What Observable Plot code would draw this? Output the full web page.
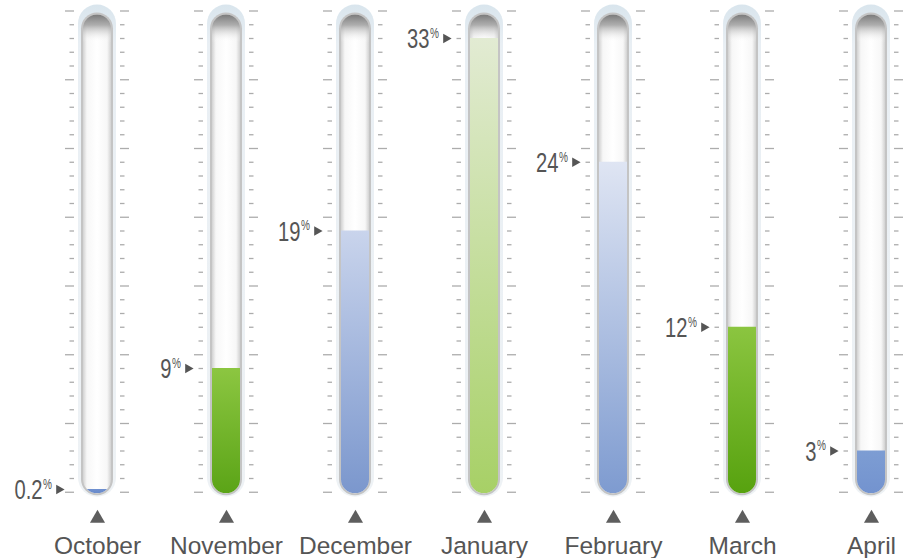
<!DOCTYPE html>
<html><head><meta charset="utf-8">
<script src="https://cdn.jsdelivr.net/npm/d3@7"></script>
<script src="https://cdn.jsdelivr.net/npm/@observablehq/plot@0.6"></script>
<style>
html,body{margin:0;padding:0;background:#fff;}
#chart{width:911px;height:558px;}
</style>
</head><body>
<svg width="0" height="0" style="position:absolute">
<defs id="gdefs">
 <linearGradient id="inner" x1="0" x2="1" y1="0" y2="0">
  <stop offset="0" stop-color="#d2d2d2"/>
  <stop offset="0.14" stop-color="#f7f7f7"/>
  <stop offset="0.5" stop-color="#ffffff"/>
  <stop offset="0.86" stop-color="#f7f7f7"/>
  <stop offset="1" stop-color="#d2d2d2"/>
 </linearGradient>
 <linearGradient id="dome" x1="0" x2="0" y1="0" y2="1">
  <stop offset="0" stop-color="#7a7a7a" stop-opacity="1"/>
  <stop offset="0.022" stop-color="#a0a0a0" stop-opacity="0.85"/>
  <stop offset="0.058" stop-color="#ffffff" stop-opacity="0"/>
  <stop offset="1" stop-color="#ffffff" stop-opacity="0"/>
 </linearGradient>
 <linearGradient id="halo" x1="0" x2="0" y1="0" y2="1">
  <stop offset="0" stop-color="#d9e5ed"/>
  <stop offset="0.08" stop-color="#e9eff4"/>
  <stop offset="1" stop-color="#eef2f5"/>
 </linearGradient>
</defs></svg>
<div id="chart"></div>
<script>
// ---- data ----
const months = ["October", "November", "December", "January", "February", "March", "April"];
const values = [0.2, 9, 19, 33, 24, 12, 3];
const valueLabels = ["0.2", "9", "19", "33", "24", "12", "3"];
const yMax = 35;
const tickLevels = d3.range(0, yMax + 1);

// ---- styles ----
const fillTop =    ["#6f90cf", "#8cc641", "#c9d4ec", "#e2ebd3", "#dfe5f3", "#8bc540", "#7d9dd3"];
const fillBottom = ["#6a8bcb", "#5ba417", "#7b97cd", "#a7d066", "#7e9bd0", "#57a20f", "#7393cf"];

const gdefs = document.getElementById("gdefs");
const NS = "http://www.w3.org/2000/svg";
months.forEach((m, i) => {
  const lg = document.createElementNS(NS, "linearGradient");
  lg.setAttribute("id", "fill" + i);
  lg.setAttribute("x1", "0"); lg.setAttribute("x2", "0");
  lg.setAttribute("y1", "0"); lg.setAttribute("y2", "1");
  [[0, fillTop[i]], [1, fillBottom[i]]].forEach(([o, c]) => {
    const s = document.createElementNS(NS, "stop");
    s.setAttribute("offset", o); s.setAttribute("stop-color", c);
    lg.appendChild(s);
  });
  gdefs.appendChild(lg);
});

const data = months.map((m, i) => ({month: m, value: values[i], label: valueLabels[i], fill: `url(#fill${i})`}));
const ticks = months.flatMap(m => tickLevels.map(l => ({month: m, level: l, major: l % 5 === 0})));
const major = ticks.filter(d => d.major);
const minor = ticks.filter(d => !d.major);
const tickStyle = {x: "month", y: "level", stroke: "#acacac", strokeWidth: 1.3};
const numFont = "'Liberation Sans',Arial,sans-serif";
const labFont = "'Liberation Sans',Helvetica,Arial,sans-serif";
const txt = "#555555";

const plot = Plot.plot({
  width: 911, height: 558, margin: 0,
  x: {domain: months, range: [81.5, 887.1], paddingInner: 0.784, paddingOuter: 0, align: 0.5, axis: null},
  y: {domain: [0, yMax], range: [491.75, 10.5], axis: null},
  color: {type: "identity"},
  style: {background: "transparent", overflow: "visible"},
  marks: [
    Plot.tickY(major, {...tickStyle, insetLeft: -18, insetRight: 37}),
    Plot.tickY(major, {...tickStyle, insetLeft: 37, insetRight: -18}),
    Plot.tickY(minor, {...tickStyle, insetLeft: -13.5, insetRight: 37}),
    Plot.tickY(minor, {...tickStyle, insetLeft: 37, insetRight: -13.5}),
    // halo
    Plot.barY(data, {x: "month", y1: 0, y2: yMax, fill: "url(#halo)", insetLeft: -5, insetRight: -5, insetTop: -6, insetBottom: -5, rx: 19}),
    // glass border
    Plot.barY(data, {x: "month", y1: 0, y2: yMax, fill: "#c4c4c4", insetLeft: -2, insetRight: -2, insetTop: 2, insetBottom: -3.5, rx: 16}),
    // interior
    Plot.barY(data, {x: "month", y1: 0, y2: yMax, fill: "url(#inner)", insetTop: 4, insetBottom: -1.5, rx: 14, ariaDescription: "interior"}),
    Plot.barY(data, {x: "month", y1: 0, y2: yMax, fill: "url(#dome)", insetTop: 4, insetBottom: -1.5, rx: 14}),
    // liquid
    Plot.barY(data, {x: "month", y1: 0, y2: "value", fill: "fill", insetBottom: -1.5, ariaDescription: "fill"}),
    // value arrows & labels
    Plot.dot(data, {x: "month", y: "value", symbol: "triangle", rotate: 90, r: 3.6, fill: txt, dx: -38.5}),
    Plot.text(data, {x: "month", y: "value", text: "label", textAnchor: "end", dx: -55, dy: 1, fontSize: 28, fill: txt, fontFamily: numFont, ariaDescription: "condensed"}),
    Plot.text(data, {x: "month", y: "value", text: () => "%", textAnchor: "start", dx: -54.5, dy: -5, fontSize: 14, fill: txt, fontFamily: numFont, ariaDescription: "condensed"}),
    // month markers & labels
    Plot.dot(data, {x: "month", frameAnchor: "bottom", symbol: "triangle", r: 5.6, fill: "#5e5e5e", dy: -40}),
    Plot.text(data, {x: "month", text: "month", frameAnchor: "bottom", lineAnchor: "bottom", dy: -5, fontSize: 24.5, fill: txt, fontFamily: labFont})
  ]
});

// narrow the value labels (condensed lettering)
plot.querySelectorAll('g[aria-description="condensed"] text').forEach(t => {
  const tr = t.getAttribute("transform") || "";
  t.setAttribute("transform", tr + " scale(0.72,1)");
});

// clip the liquid to the tube interior
const clip = document.createElementNS(NS, "clipPath");
clip.setAttribute("id", "tube-clip");
plot.querySelectorAll('g[aria-description="interior"] rect').forEach(r => clip.appendChild(r.cloneNode()));
const pdefs = document.createElementNS(NS, "defs");
pdefs.appendChild(clip);
plot.insertBefore(pdefs, plot.firstChild);
plot.querySelectorAll('g[aria-description="fill"]').forEach(g => g.setAttribute("clip-path", "url(#tube-clip)"));

document.getElementById("chart").appendChild(plot);
</script>
</body></html>
